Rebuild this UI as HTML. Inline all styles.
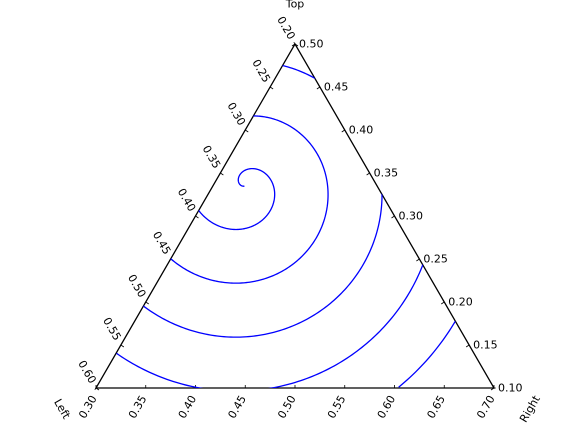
<!DOCTYPE html>
<html><head><meta charset="utf-8"><style>
html,body{margin:0;padding:0;background:#fff;overflow:hidden;width:576px;height:432px;}
svg{display:block;}
text{font-family:"DejaVu Sans","Liberation Sans",sans-serif;font-size:11px;fill:#000;}
</style></head><body>
<svg id="chart" width="576" height="432" viewBox="0 0 576 432">
<defs><clipPath id="tri"><polygon points="96,388 494,388 295,44"/></clipPath></defs>
<g id="axes"></g>
<g id="series" clip-path="url(#tri)"></g>
</svg>
<script>
// tick labels
const leftTicks = ["0.20","0.25","0.30","0.35","0.40","0.45","0.50","0.55","0.60"];
const rightTicks = ["0.50","0.45","0.40","0.35","0.30","0.25","0.20","0.15","0.10"];
const bottomTicks = ["0.30","0.35","0.40","0.45","0.50","0.55","0.60","0.65","0.70"];
// spiral data (centre in plot fraction, growth per turn, start offset in radians, number of turns)
const spiralCenter = [0.373, 0.413];
const spiralGrowth = [0.136];
const spiralStart = [1.8];
const spiralTurns = [4.8];

const NS = "http://www.w3.org/2000/svg";
const A = [96,388], B = [494,388], C = [295,44]; // bottom-left, bottom-right, top
const W = B[0]-A[0], H = A[1]-C[1];
function xScale(f){ return A[0] + f*W; }
function yScale(f){ return C[1] + f*H; }
function lerp(p,q,t){ return [p[0]+(q[0]-p[0])*t, p[1]+(q[1]-p[1])*t]; }
function mk(tag, attrs, parent){ const e=document.createElementNS(NS,tag); for(const k in attrs) e.setAttribute(k,attrs[k]); parent.appendChild(e); return e; }
function inside(x,y){
  if(y>A[1]+1.5) return false;
  const t=(A[1]-y)/H; // 0 at bottom, 1 at top
  const xl=A[0]+t*(C[0]-A[0]), xr=B[0]+t*(C[0]-B[0]);
  return x>=xl-1.5 && x<=xr+1.5;
}

const axes = document.getElementById('axes');
const tri = mk('polygon',{points:`${A} ${B} ${C}`,fill:'none',stroke:'#000','stroke-width':1.3},axes);



function tickMark(p, dx, dy){
  const l = mk('path',{d:`M${p[0]-dx},${p[1]-dy} L${p[0]},${p[1]} M${p[0]+dy*0.6},${p[1]-dx*0.6} L${p[0]},${p[1]}`,stroke:'#000','stroke-width':0.8,fill:'none'},axes);
  
  
}

leftTicks.forEach((lab,i)=>{
  const p = lerp(C,A,i/(leftTicks.length-1));
  tickMark(p,-3,-2);
  const t = mk('text',{x:p[0]-9,y:p[1]-16,'text-anchor':'middle','dominant-baseline':'central',transform:`rotate(60 ${p[0]-9} ${p[1]-16})`},axes);
  t.textContent = lab;
  
  
});
rightTicks.forEach((lab,i)=>{
  const p = lerp(C,B,i/(rightTicks.length-1));
  tickMark(p,3,-2);
  const t = mk('text',{x:p[0]+4,y:p[1],'dominant-baseline':'central'},axes);
  t.textContent = lab;
  
  
});
bottomTicks.forEach((lab,i)=>{
  const p = lerp(A,B,i/(bottomTicks.length-1));
  tickMark(p,0,3);
  const t = mk('text',{x:p[0]-8,y:p[1]+19,'text-anchor':'middle','dominant-baseline':'central',transform:`rotate(-60 ${p[0]-8} ${p[1]+19})`},axes);
  t.textContent = lab;
  
  
});
const tt = mk('text',{x:295,y:4,'text-anchor':'middle','dominant-baseline':'central'},axes);
tt.textContent='Top';


const lt = mk('text',{x:62,y:409,'text-anchor':'middle','dominant-baseline':'central',transform:'rotate(60 62 409)'},axes);
lt.textContent='Left';


const rt = mk('text',{x:530,y:409,'text-anchor':'middle','dominant-baseline':'central',transform:'rotate(-60 530 409)'},axes);
rt.textContent='Right';



// spiral
const cx = xScale(spiralCenter[0]), cy = yScale(spiralCenter[1]);
const k = spiralGrowth[0]*W/(2*Math.PI);
let d = '';
let pen = false;
const n = 2000;
for(let i=0;i<=n;i++){
  const phi = -spiralStart[0] + i/n*(spiralTurns[0]*2*Math.PI);
  const r = k*(phi+spiralStart[0]);
  const x = cx + r*Math.sin(phi), y = cy - r*Math.cos(phi);
  if(inside(x,y)){
    d += (pen?'L':'M')+x.toFixed(2)+','+y.toFixed(2);
    pen = true;
  } else pen = false;
}
const sp = mk('path',{d:d,fill:'none',stroke:'#0000ff','stroke-width':1.3},document.getElementById('series'));


</script>
</body></html>
